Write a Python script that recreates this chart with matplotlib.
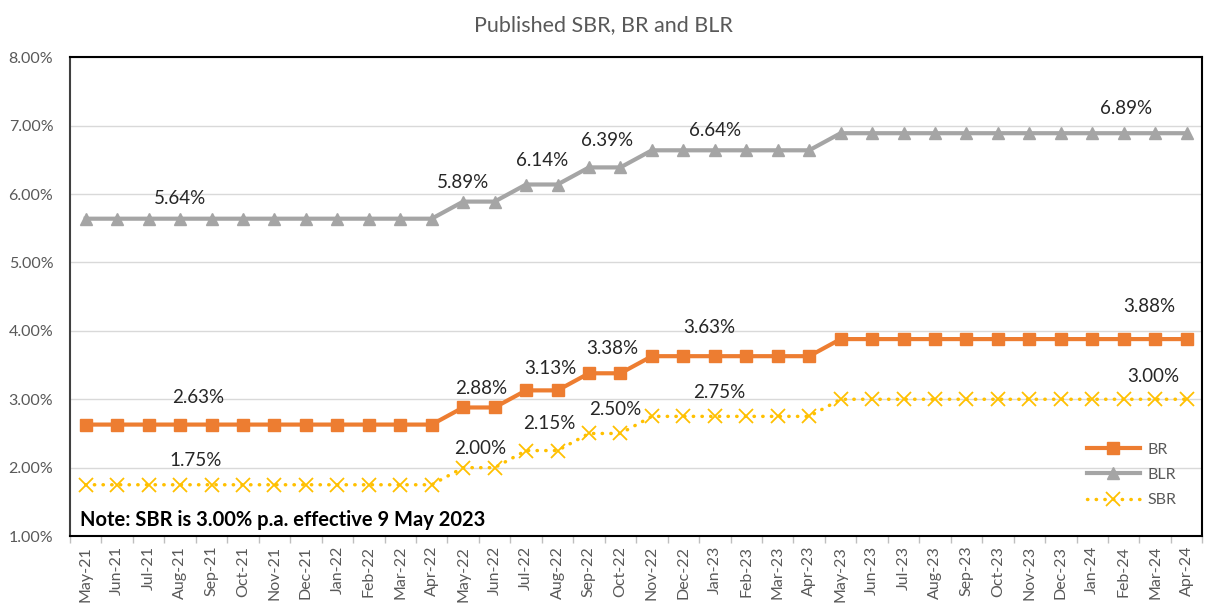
import matplotlib.pyplot as plt
from matplotlib.ticker import FuncFormatter, FixedLocator

plt.rcParams['font.family'] = ['Lato', 'DejaVu Sans']

months = ['May-21', 'Jun-21', 'Jul-21', 'Aug-21', 'Sep-21', 'Oct-21', 'Nov-21', 'Dec-21',
          'Jan-22', 'Feb-22', 'Mar-22', 'Apr-22', 'May-22', 'Jun-22', 'Jul-22', 'Aug-22',
          'Sep-22', 'Oct-22', 'Nov-22', 'Dec-22', 'Jan-23', 'Feb-23', 'Mar-23', 'Apr-23',
          'May-23', 'Jun-23', 'Jul-23', 'Aug-23', 'Sep-23', 'Oct-23', 'Nov-23', 'Dec-23',
          'Jan-24', 'Feb-24', 'Mar-24', 'Apr-24']

blr = [5.64]*12 + [5.89]*2 + [6.14]*2 + [6.39]*2 + [6.64]*6 + [6.89]*12
br = [2.63]*12 + [2.88]*2 + [3.13]*2 + [3.38]*2 + [3.63]*6 + [3.88]*12
sbr = [1.75]*12 + [2.00]*2 + [2.25]*2 + [2.50]*2 + [2.75]*6 + [3.00]*12

# data labels: (month index, text)
blr_labels = [(3, '5.64%'), (12, '5.89%'), (14, '6.14%'), (16, '6.39%'), (20, '6.64%'), (33, '6.89%')]
br_labels = [(3, '2.63%'), (12, '2.88%'), (14, '3.13%'), (16, '3.38%'), (20, '3.63%'), (33, '3.88%')]
sbr_labels = [(3, '1.75%'), (12, '2.00%'), (14, '2.15%'), (16, '2.50%'), (20, '2.75%'), (33, '3.00%')]

# label offsets in pixels (dx, dy)
blr_off = [(0, 20), (0, 19), (16, 24), (18, 27), (0, 20), (2, 25)]
br_off = [(18, 27), (18, 19), (24, 22), (23, 25), (-6, 29), (26, 33)]
sbr_off = [(16, 24), (17, 19), (23, 27), (26, 24), (4, 24), (30, 23)]

c_br = '#ED7D31'
c_blr = '#A5A5A5'
c_sbr = '#FFC000'

fig = plt.figure(figsize=(12.06, 6.03), dpi=100)
ax = fig.add_axes([0.058, 0.111, 0.939, 0.794])

x = list(range(len(months)))
ax.plot(x, br, color=c_br, lw=3, marker='s', ms=8.5, label='BR', zorder=4)
ax.plot(x, blr, color=c_blr, lw=3, marker='^', ms=9, label='BLR', zorder=4)
ax.plot(x, sbr, color=c_sbr, lw=2.5, ls=(0, (0.1, 2.4)), dash_capstyle='round',
        marker='x', ms=10, mew=1.3, label='SBR', zorder=4)

for labels, offs, vals in [(blr_labels, blr_off, blr), (br_labels, br_off, br), (sbr_labels, sbr_off, sbr)]:
    for (i, txt), (dx, dy) in zip(labels, offs):
        ax.annotate(txt, xy=(i, vals[i]), xytext=(dx, dy), textcoords='offset pixels',
                    ha='center', va='center', fontsize=13.5, color='#262626', zorder=5)

ax.set_xlim(-0.5, len(months) - 0.5)
ax.set_ylim(1, 8)
ax.set_yticks([1, 2, 3, 4, 5, 6, 7, 8])
ax.yaxis.set_major_formatter(FuncFormatter(lambda v, p: f'{v:.2f}%'))
ax.grid(axis='y', color='#D9D9D9', lw=1)
ax.set_axisbelow(True)

ax.set_xticks(x)
ax.set_xticklabels(months, rotation=90)
ax.xaxis.set_minor_locator(FixedLocator([i - 0.5 for i in range(len(months) + 1)]))
ax.tick_params(axis='x', which='major', length=0, pad=7, labelsize=11.5, labelcolor='#595959')
ax.tick_params(axis='x', which='minor', length=5, color='#BFBFBF', width=1)
ax.tick_params(axis='y', length=0, pad=12, labelsize=11.5, labelcolor='#595959')

for s in ['left', 'bottom', 'top', 'right']:
    ax.spines[s].set_color('black')
    ax.spines[s].set_linewidth(1.5)
ax.spines['left'].set_color('#404040')

ax.text(0.009, 0.033, 'Note: SBR is 3.00% p.a. effective 9 May 2023', transform=ax.transAxes,
        fontsize=14.5, fontweight='bold', color='black', ha='left', va='center')

leg = ax.legend(loc='lower right', bbox_to_anchor=(0.99, 0.03), frameon=False,
                handlelength=3.3, labelspacing=0.7, handletextpad=0.5,
                fontsize=11.5, labelcolor='#595959')

fig.suptitle('Published SBR, BR and BLR', y=0.975, fontsize=15.5, color='#595959')

fig.savefig('out.png', dpi=100)
